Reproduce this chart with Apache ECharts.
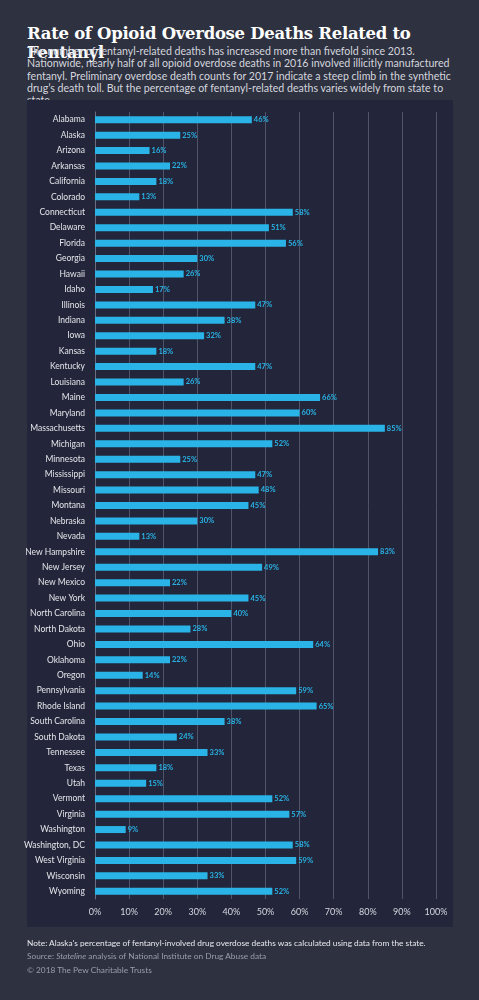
<!DOCTYPE html>
<html><head><meta charset="utf-8">
<script src="https://cdn.jsdelivr.net/npm/echarts@6/dist/echarts.min.js"></script>
<style>
html,body{margin:0;padding:0;background:#2e3140;width:479px;height:1000px;overflow:hidden;font-family:Lato,"Noto Sans",sans-serif}
#t{position:absolute;left:27px;top:24px;color:#fff;font:bold 16.5px "DejaVu Serif",serif;letter-spacing:-0.3px}
#s{position:absolute;left:27px;top:45px;width:425px;color:#d4d6de;font-size:10.6px;line-height:12.3px}
#p{position:absolute;left:27px;top:100px;width:426px;height:827px;background:#23263a}
#c{position:absolute;left:0;top:0;width:479px;height:1000px}
.f{position:absolute;left:27px;font-size:8.3px}
</style></head><body>
<div id="t">Rate of Opioid Overdose Deaths Related to Fentanyl</div>
<div id="s">The number of fentanyl-related deaths has increased more than fivefold since 2013. Nationwide, nearly half of all opioid overdose deaths in 2016 involved illicitly manufactured fentanyl. Preliminary overdose death counts for 2017 indicate a steep climb in the synthetic drug’s death toll. But the percentage of fentanyl-related deaths varies widely from state to state.</div>
<div id="p"></div>
<div id="c"></div>
<div class="f" style="top:938px;color:#e8e9ee">Note: Alaska's percentage of fentanyl-involved drug overdose deaths was calculated using data from the state.</div>
<div class="f" style="top:951px;color:#9a9dab">Source: <i>Stateline</i> analysis of National Institute on Drug Abuse data</div>
<div class="f" style="top:965px;color:#9a9dab">© 2018 The Pew Charitable Trusts</div>
<script>
const states=["Alabama","Alaska","Arizona","Arkansas","California","Colorado","Connecticut","Delaware","Florida","Georgia","Hawaii","Idaho","Illinois","Indiana","Iowa","Kansas","Kentucky","Louisiana","Maine","Maryland","Massachusetts","Michigan","Minnesota","Mississippi","Missouri","Montana","Nebraska","Nevada","New Hampshire","New Jersey","New Mexico","New York","North Carolina","North Dakota","Ohio","Oklahoma","Oregon","Pennsylvania","Rhode Island","South Carolina","South Dakota","Tennessee","Texas","Utah","Vermont","Virginia","Washington","Washington, DC","West Virginia","Wisconsin","Wyoming"];
const values=[46,25,16,22,18,13,58,51,56,30,26,17,47,38,32,18,47,26,66,60,85,52,25,47,48,45,30,13,83,49,22,45,40,28,64,22,14,59,65,38,24,33,18,15,52,57,9,58,59,33,52];
const ch=echarts.init(document.getElementById('c'));
ch.setOption({
 animation:false,
 grid:{left:95,right:43,top:112,height:787},
 xAxis:{type:'value',min:0,max:100,interval:10,
  axisLabel:{formatter:'{value}%',color:'#d4d6de',fontSize:9,margin:9,fontFamily:'Lato'},
  splitLine:{lineStyle:{color:'#50546a',width:1}},axisLine:{show:false},axisTick:{show:false}},
 yAxis:{type:'category',data:states,inverse:true,
  axisLabel:{color:'#e4e5ea',fontSize:8.5,margin:10,fontFamily:'Lato'},
  axisLine:{lineStyle:{color:'#6a6e80'}},axisTick:{show:false}},
 series:[{type:'bar',data:values,barWidth:7,itemStyle:{color:'#29b3e6'},
  label:{show:true,position:'right',distance:2,formatter:'{c}%',color:'#29b3e6',fontSize:7.5,fontWeight:'bold',fontFamily:'Lato'}}]
});
</script></body></html>
